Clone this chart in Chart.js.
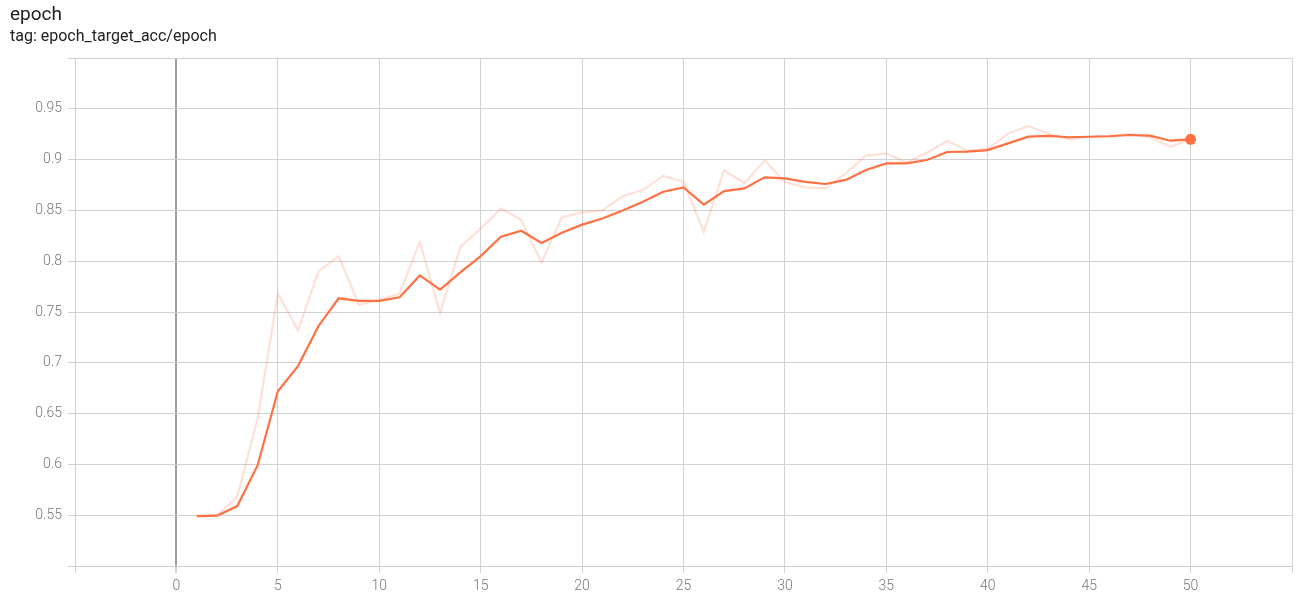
<!DOCTYPE html>
<html>
<head>
<meta charset="utf-8">
<script src="https://cdn.jsdelivr.net/npm/chart.js@4.4.1/dist/chart.umd.min.js"></script>
<style>
  html, body { margin: 0; padding: 0; background: #fff; }
  #wrap { position: relative; width: 1300px; height: 599px; overflow: hidden; }
  #c { position: absolute; left: 0; top: 0; }
  .t1 { position: absolute; left: 10px; top: 2px; font: 19px Roboto, "Noto Sans", sans-serif; color: #212121; }
  .t2 { position: absolute; left: 10px; top: 26px; font: 16px Roboto, "Noto Sans", sans-serif; color: #212121; }
</style>
</head>
<body>
<div id="wrap">
  <canvas id="c" width="1300" height="599"></canvas>
  <div class="t1">epoch</div>
  <div class="t2">tag: epoch_target_acc/epoch</div>
</div>
<script>
const epochs = [1,2,3,4,5,6,7,8,9,10,11,12,13,14,15,16,17,18,19,20,21,22,23,24,25,26,27,28,29,30,31,32,33,34,35,36,37,38,39,40,41,42,43,44,45,46,47,48,49,50];
const smoothedAcc = [0.549,0.5495,0.559,0.599,0.672,0.697,0.736,0.7635,0.761,0.761,0.7645,0.786,0.772,0.789,0.805,0.824,0.830,0.818,0.828,0.836,0.842,0.850,0.8586,0.8684,0.8727,0.8556,0.869,0.8717,0.8826,0.8815,0.878,0.876,0.880,0.8898,0.8963,0.8963,0.8996,0.9075,0.9078,0.9094,0.916,0.9226,0.9233,0.922,0.9225,0.923,0.9242,0.9236,0.9186,0.920];
const rawAcc = [0.549,0.5495,0.568,0.645,0.768,0.732,0.790,0.805,0.757,0.762,0.768,0.819,0.749,0.814,0.832,0.852,0.8406,0.7985,0.843,0.848,0.850,0.864,0.870,0.884,0.878,0.829,0.8895,0.8767,0.899,0.878,0.8727,0.8717,0.8865,0.904,0.906,0.897,0.9068,0.9186,0.9088,0.9104,0.9255,0.933,0.9255,0.920,0.9225,0.9235,0.925,0.922,0.9127,0.920];
const yTicks = [0.55,0.6,0.65,0.7,0.75,0.8,0.85,0.9,0.95];
const xTicks = [0,5,10,15,20,25,30,35,40,45,50];

const toPts = arr => epochs.map((e, i) => ({x: e, y: arr[i]}));
const ORANGE = '#ff7043';
const lastIdx = epochs.length - 1;
const tickFont = { family: 'Roboto, "Noto Sans", sans-serif', size: 14, weight: '300' };
const GRID = '#d2d2d2';

new Chart(document.getElementById('c'), {
  type: 'line',
  data: {
    datasets: [
      {
        label: 'smoothed',
        data: toPts(smoothedAcc),
        borderColor: ORANGE,
        backgroundColor: ORANGE,
        borderWidth: 2.2,
        pointRadius: ctx => ctx.dataIndex === lastIdx ? 5.5 : 0,
        pointBorderWidth: 0,
        tension: 0,
        order: 1
      },
      {
        label: 'raw',
        data: toPts(rawAcc),
        borderColor: 'rgba(255,112,67,0.22)',
        borderWidth: 2.2,
        pointRadius: 0,
        tension: 0,
        order: 2
      }
    ]
  },
  options: {
    responsive: false,
    animation: false,
    devicePixelRatio: 1,
    layout: { padding: { top: 58, right: 8, left: 0, bottom: 0 } },
    plugins: { legend: { display: false }, tooltip: { enabled: false } },
    scales: {
      x: {
        type: 'linear',
        min: -5, max: 55,
        afterBuildTicks: s => { s.ticks = [-5].concat(xTicks).concat([55]).map(v => ({value: v})); },
        afterFit: s => { s.height = 33; },
        ticks: {
          callback: v => xTicks.includes(v) ? String(v) : '',
          color: '#777', font: tickFont, padding: 5, maxRotation: 0, autoSkip: false
        },
        grid: {
          color: ctx => (ctx.tick && ctx.tick.value === 0) ? '#9e9e9e' : GRID,
          lineWidth: ctx => (ctx.tick && ctx.tick.value === 0) ? 2 : 1,
          tickLength: 7,
          tickColor: GRID
        },
        border: { color: '#cfcfcf' }
      },
      y: {
        type: 'linear',
        min: 0.5, max: 1.0,
        afterBuildTicks: s => { s.ticks = [0.5].concat(yTicks).concat([1.0]).map(v => ({value: v})); },
        afterFit: s => { s.width = 75; },
        ticks: {
          callback: v => yTicks.some(t => Math.abs(t - v) < 1e-9) ? String(Number(v.toFixed(2))) : '',
          color: '#777', font: tickFont, padding: 6, autoSkip: false
        },
        grid: { color: GRID, tickLength: 7, tickColor: GRID },
        border: { color: '#cfcfcf' }
      }
    }
  }
});
</script>
</body>
</html>
